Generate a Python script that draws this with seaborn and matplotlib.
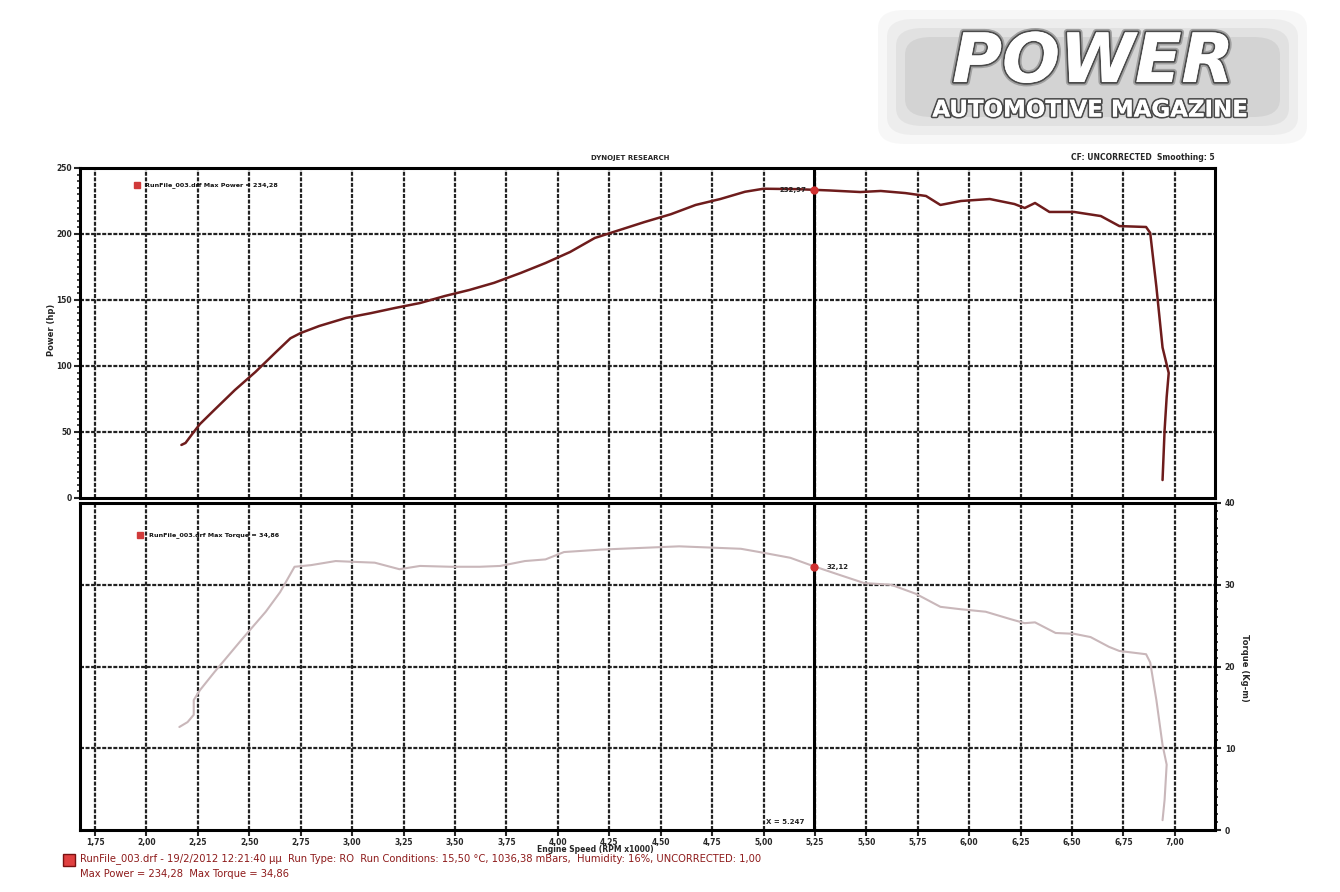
import matplotlib
matplotlib.use('Agg')
import matplotlib.pyplot as plt
import matplotlib.patheffects as pe
from matplotlib.patches import FancyBboxPatch
from matplotlib.ticker import MultipleLocator
import seaborn as sns
import numpy as np
import pandas as pd

# Power curve (hp) vs engine speed (RPM x1000)
rpm_power = [2.17, 2.19, 2.23, 2.26, 2.33, 2.43, 2.53, 2.63, 2.70, 2.75, 2.84, 2.97,
             3.09, 3.21, 3.33, 3.45, 3.57, 3.69, 3.82, 3.94, 4.06, 4.18, 4.30, 4.42,
             4.55, 4.67, 4.79, 4.91, 5.00, 5.16, 5.32, 5.47, 5.57, 5.69, 5.79, 5.86,
             5.96, 6.10, 6.22, 6.27, 6.32, 6.39, 6.51, 6.64, 6.73, 6.86, 6.88, 6.91,
             6.94, 6.97, 6.96, 6.95, 6.94]
power_hp = [40.2, 41.7, 50.0, 56.0, 66.7, 81.8, 95.5, 110.6, 121.0, 125.0, 130.3, 136.4,
            140.0, 144.0, 147.7, 153.0, 157.6, 163.0, 170.5, 178.0, 186.4, 197.0, 203.0, 209.0,
            215.0, 222.0, 226.5, 232.0, 234.3, 234.0, 233.0, 231.8, 232.6, 231.0, 228.8, 222.0,
            225.0, 226.5, 222.7, 219.7, 223.5, 216.7, 216.7, 213.6, 206.0, 205.3, 200.8, 160.0,
            114.0, 94.7, 76.5, 51.5, 13.6]

# Torque curve (Kg-m) vs engine speed
rpm_torque = [2.16, 2.20, 2.23, 2.23, 2.26, 2.33, 2.46, 2.58, 2.65, 2.72, 2.80, 2.92,
              3.01, 3.11, 3.23, 3.33, 3.48, 3.62, 3.72, 3.84, 3.94, 4.03, 4.21, 4.40,
              4.59, 4.69, 4.89, 4.98, 5.13, 5.24, 5.37, 5.49, 5.62, 5.74, 5.86, 5.96,
              6.08, 6.20, 6.27, 6.32, 6.42, 6.51, 6.59, 6.68, 6.73, 6.86, 6.88, 6.91,
              6.94, 6.96, 6.95, 6.94]
torque_kgm = [12.6, 13.2, 14.1, 15.9, 17.1, 19.3, 23.2, 26.7, 29.1, 32.2, 32.4, 32.9,
              32.8, 32.7, 31.9, 32.3, 32.2, 32.2, 32.3, 32.9, 33.1, 34.0, 34.3, 34.5,
              34.7, 34.6, 34.4, 34.0, 33.3, 32.3, 31.2, 30.2, 30.0, 28.9, 27.3, 27.0,
              26.7, 25.8, 25.3, 25.4, 24.1, 24.0, 23.6, 22.4, 21.9, 21.5, 20.5, 15.9,
              10.4, 8.0, 3.7, 1.2]

rpm_ticks = [1.75, 2.00, 2.25, 2.50, 2.75, 3.00, 3.25, 3.50, 3.75, 4.00, 4.25, 4.50,
             4.75, 5.00, 5.25, 5.50, 5.75, 6.00, 6.25, 6.50, 6.75, 7.00]
rpm_labels = [f'{t:.2f}'.replace('.', ',') for t in rpm_ticks]
power_ticks = [0, 50, 100, 150, 200, 250]
torque_ticks = [0, 10, 20, 30, 40]

cursor_x = 5.247
cursor_power = 232.97
cursor_torque = 32.12

df_p = pd.DataFrame({'rpm': rpm_power, 'hp': power_hp})
df_t = pd.DataFrame({'rpm': rpm_torque, 'tq': torque_kgm})

sns.set_style('white')
plt.rcParams['font.family'] = ['DejaVu Sans']

W, H = 1340, 892
fig = plt.figure(figsize=(W / 100, H / 100), dpi=100)
fig.patch.set_facecolor('white')

def fx(px):
    return px / W

def fy(py):
    return 1 - py / H

ax1 = fig.add_axes([fx(80), fy(498), (1215 - 80) / W, 330 / H])
ax2 = fig.add_axes([fx(80), fy(830), (1215 - 80) / W, 327 / H])

POWER_COL = '#6e1c1c'
TORQUE_COL = '#c9b7ba'
GRID_KW = dict(color='#222222', linestyle=(0, (1.8, 0.7)), linewidth=1.6)
xmin, xmax = 1.677, 7.195

sns.lineplot(data=df_p, x='rpm', y='hp', sort=False, estimator=None, ax=ax1,
             color=POWER_COL, linewidth=1.8)
sns.lineplot(data=df_t, x='rpm', y='tq', sort=False, estimator=None, ax=ax2,
             color=TORQUE_COL, linewidth=1.5)

for ax, yt, ylim in [(ax1, power_ticks, (0, 250)), (ax2, torque_ticks, (0, 40))]:
    ax.set_xlim(xmin, xmax)
    ax.set_ylim(*ylim)
    ax.set_xticks(rpm_ticks)
    ax.set_yticks(yt)
    for t in rpm_ticks:
        ax.axvline(t, zorder=0, **GRID_KW)
    for t in yt[1:-1]:
        ax.axhline(t, zorder=0, **GRID_KW)
    ax.axvline(cursor_x, color='black', linewidth=2.2, zorder=1)
    for s in ax.spines.values():
        s.set_visible(True)
        s.set_color('black')
        s.set_linewidth(2.2)
    ax.set_xlabel('')
    ax.set_ylabel('')

# top panel ticks
ax1.tick_params(axis='x', length=0, labelbottom=False)
ax1.yaxis.set_minor_locator(MultipleLocator(5))
ax1.tick_params(axis='y', which='major', left=True, length=4, width=1.5, labelsize=5.5,
                pad=2, direction='out')
ax1.tick_params(axis='y', which='minor', left=True, length=2.5, width=1.2, direction='out')
ax1.set_yticklabels([str(v) for v in power_ticks], fontweight='bold')

# bottom panel ticks
ax2.yaxis.tick_right()
ax2.yaxis.set_minor_locator(MultipleLocator(1))
ax2.tick_params(axis='y', which='major', right=True, left=False, length=4, width=1.5,
                labelsize=5.5, pad=3, direction='out')
ax2.tick_params(axis='y', which='minor', right=True, left=False, length=2.5, width=1.2,
                direction='out')
ax2.set_yticklabels([str(v) for v in torque_ticks], fontweight='bold')
ax2.tick_params(axis='x', bottom=True, length=4, width=1.5, labelsize=5.5, pad=1.5,
                direction='out')
ax2.set_xticklabels(rpm_labels, fontweight='bold')

# cursor markers
ax1.plot([cursor_x], [cursor_power], 'o', color='#d03030', markersize=5, zorder=5)
ax1.text(cursor_x - 0.04, cursor_power, f'{cursor_power:.2f}'.replace('.', ','),
         fontsize=5, fontweight='bold', ha='right', va='center', color='#222')
ax2.plot([cursor_x], [cursor_torque], 'o', color='#d03030', markersize=5, zorder=5)
ax2.text(cursor_x + 0.06, cursor_torque, f'{cursor_torque:.2f}'.replace('.', ','),
         fontsize=5, fontweight='bold', ha='left', va='center', color='#222')
ax2.text(cursor_x - 0.05, 1.0, f'X = {cursor_x:.3f}', fontsize=5, fontweight='bold',
         ha='right', va='center', color='#222')

# in-plot legends
ax1.plot([0.050], [0.948], 's', color='#d03a3a', markersize=5, transform=ax1.transAxes,
         clip_on=False)
ax1.text(0.0575, 0.948, 'RunFile_003.drf Max Power = 234,28', transform=ax1.transAxes,
         fontsize=4.6, fontweight='bold', va='center', color='#111')
ax2.plot([0.053], [0.902], 's', color='#d03a3a', markersize=5, transform=ax2.transAxes,
         clip_on=False)
ax2.text(0.0605, 0.902, 'RunFile_003.drf Max Torque = 34,86', transform=ax2.transAxes,
         fontsize=4.6, fontweight='bold', va='center', color='#111')

# axis labels and headers
fig.text(fx(52), fy(330), 'Power (hp)', rotation=90, fontsize=6, fontweight='bold',
         ha='center', va='center')
fig.text(fx(1245), fy(668), 'Torque (Kg-m)', rotation=270, fontsize=6, fontweight='bold',
         ha='center', va='center')
fig.text(fx(595), fy(849), 'Engine Speed (RPM x1000)', fontsize=5.5, fontweight='bold',
         ha='center', va='center')
fig.text(fx(630), fy(158), 'DYNOJET RESEARCH', fontsize=5, fontweight='bold',
         ha='center', va='center')
fig.text(fx(1215), fy(158), 'CF: UNCORRECTED  Smoothing: 5', fontsize=5.5, fontweight='bold',
         ha='right', va='center')

# footer
RED = '#8e1b1b'
fig.patches.append(FancyBboxPatch((fx(63), fy(866)), 12 / W, 12 / H,
                                  boxstyle='square,pad=0', facecolor='#e04040',
                                  edgecolor='#7a1010', linewidth=1,
                                  transform=fig.transFigure, figure=fig))
fig.text(fx(80), fy(859),
         'RunFile_003.drf - 19/2/2012 12:21:40 μμ  Run Type: RO  Run Conditions: 15,50 °C, '
         '1036,38 mBars,  Humidity: 16%, UNCORRECTED: 1,00',
         fontsize=7.2, color=RED, ha='left', va='center')
fig.text(fx(80), fy(874), 'Max Power = 234,28  Max Torque = 34,86',
         fontsize=7.2, color=RED, ha='left', va='center')

# magazine logo (soft grey glow behind white lettering)
for i, a in enumerate([0.05, 0.07, 0.09, 0.12]):
    grow = (3 - i) * 9
    fig.patches.append(FancyBboxPatch((fx(905 - grow), fy(117 + grow)),
                                      (375 + 2 * grow) / W, (80 + 2 * grow) / H,
                                      boxstyle='round,pad=0,rounding_size=0.02',
                                      facecolor='#6f6f6f', edgecolor='none', alpha=a,
                                      transform=fig.transFigure, figure=fig))
logo_fx = [pe.withStroke(linewidth=5, foreground='#a0a0a0'),
           pe.withStroke(linewidth=2.5, foreground='#4a4a4a'), pe.Normal()]
fig.text(fx(1093), fy(63), 'POWER', fontsize=49, fontweight='heavy', style='italic',
         color='white', ha='center', va='center', path_effects=logo_fx)
fig.text(fx(1090), fy(110), 'AUTOMOTIVE MAGAZINE', fontsize=16.5, fontweight='bold',
         color='white', ha='center', va='center',
         path_effects=[pe.withStroke(linewidth=2.5, foreground='#4a4a4a'), pe.Normal()])

fig.savefig('out.png', dpi=100, facecolor='white')
